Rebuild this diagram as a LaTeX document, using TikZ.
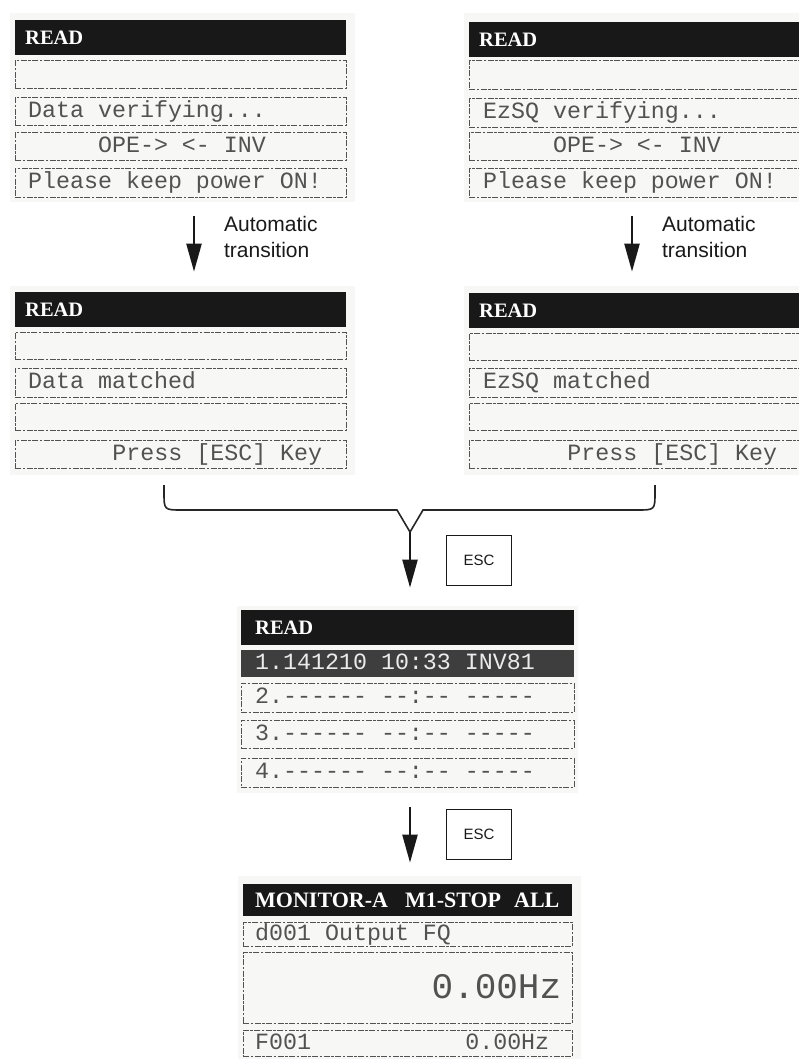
\documentclass[tikz,border=0pt]{standalone}
\usepackage{fontspec}
\usepackage{xcolor}
\usepackage{tikz}
\usetikzlibrary{arrows.meta,positioning}
\newfontfamily\lcdfont{Liberation Mono}[Ligatures=TeXOff]
\newfontfamily\lcdhead{Liberation Serif}
\newfontfamily\notefont{Liberation Sans}
% one character cell of blank on the LCD
\newcommand{\lsp}{\hspace*{0.6em}}
\definecolor{LcdInk}{RGB}{82,82,82}
\definecolor{LcdPaper}{RGB}{247,247,245}
\definecolor{LcdBar}{RGB}{24,24,24}
\definecolor{LcdSel}{RGB}{62,62,62}
\tikzset{
    lcdframe/.style={draw=black!75, double=LcdPaper, double distance=1.4pt, line width=0.7pt, fill=LcdPaper, inner sep=0pt},
    headbar/.style={fill=LcdBar, anchor=north west, minimum height=35pt, inner sep=0pt},
    headtext/.style={font=\lcdhead\bfseries\fontsize{20.5}{22}\selectfont, text=white, inner sep=0pt},
    lcdrow/.style={draw=LcdInk, line width=0.9pt, dash pattern=on 6pt off 1.5pt on 2.5pt off 1.5pt, anchor=north west, inner sep=0pt},
    selrow/.style={fill=LcdSel, anchor=north west, inner sep=0pt},
    lcdtext/.style={font=\lcdfont\fontsize{23.3}{26}\selectfont, text=LcdInk, inner sep=0pt, text width=294pt, text height=17pt, text depth=5pt, align=left},
    seltext/.style={lcdtext, text=black!8},
    lcdbig/.style={lcdtext, font=\lcdfont\fontsize{36}{40}\selectfont, text width=306pt, text height=26pt, text depth=5pt, align=right},
    flowarr/.style={-{Triangle[length=28pt,width=15pt]}, line width=2.3pt, black!90},
    bracket/.style={line width=1.6pt, black!85},
    autolabel/.style={font=\notefont\fontsize{21}{26}\selectfont, align=left, inner sep=0pt},
    keybox/.style={draw, line width=1.3pt, minimum width=65pt, minimum height=50pt, inner sep=0pt, font=\notefont\fontsize{15}{15}\selectfont},
}
\begin{document}
\begin{tikzpicture}[x=1pt, y=-1pt]
\useasboundingbox (0,0) rectangle (798,1059);

% top left: data verifying
\node[lcdframe, minimum width=343pt, minimum height=187pt] (s1) at (182.5,107.5) {};
\node[headbar, minimum width=331pt] (s1h) at (15,20) {};
\node[headtext, right=10pt of s1h.west] {READ};
\node[lcdrow, minimum width=331pt, minimum height=28pt] (s1r1) at (15,60) {};
\node[lcdrow, minimum width=331pt, minimum height=28pt] (s1r2) at (15,97) {};
\node[lcdrow, minimum width=331pt, minimum height=28pt] (s1r3) at (15,132) {};
\node[lcdrow, minimum width=331pt, minimum height=29pt] (s1r4) at (15,168) {};
\node[lcdtext, right=13pt of s1r2.west] {Data\lsp verifying...};
\node[lcdtext, right=13pt of s1r3.west] {\hphantom{00000}OPE->\lsp<-\lsp INV};
\node[lcdtext, right=13pt of s1r4.west] {Please\lsp keep\lsp power\lsp ON!};

% top right: EzSQ verifying
\node[lcdframe, minimum width=365pt, minimum height=187pt] (s2) at (647.5,107.5) {};
\node[headbar, minimum width=360pt] (s2h) at (469,22) {};
\node[headtext, right=10pt of s2h.west] {READ};
\node[lcdrow, minimum width=360pt, minimum height=29pt] (s2r1) at (469,60) {};
\node[lcdrow, minimum width=360pt, minimum height=29pt] (s2r2) at (469,98) {};
\node[lcdrow, minimum width=360pt, minimum height=28pt] (s2r3) at (469,132) {};
\node[lcdrow, minimum width=360pt, minimum height=29pt] (s2r4) at (469,168) {};
\node[lcdtext, right=14pt of s2r2.west] {EzSQ\lsp verifying...};
\node[lcdtext, right=14pt of s2r3.west] {\hphantom{00000}OPE->\lsp<-\lsp INV};
\node[lcdtext, right=14pt of s2r4.west] {Please\lsp keep\lsp power\lsp ON!};

% middle left: data matched
\node[lcdframe, minimum width=343pt, minimum height=187pt] (s3) at (182.5,380.5) {};
\node[headbar, minimum width=331pt] (s3h) at (15,292) {};
\node[headtext, right=10pt of s3h.west] {READ};
\node[lcdrow, minimum width=331pt, minimum height=27pt] (s3r1) at (15,332) {};
\node[lcdrow, minimum width=331pt, minimum height=29pt] (s3r2) at (15,368) {};
\node[lcdrow, minimum width=331pt, minimum height=27pt] (s3r3) at (15,403) {};
\node[lcdrow, minimum width=331pt, minimum height=28pt] (s3r4) at (15,440) {};
\node[lcdtext, right=13pt of s3r2.west] {Data\lsp matched};
\node[lcdtext, align=right, right=13pt of s3r4.west] {Press\lsp[ESC]\lsp Key};

% middle right: EzSQ matched
\node[lcdframe, minimum width=365pt, minimum height=187pt] (s4) at (647.5,380.5) {};
\node[headbar, minimum width=360pt] (s4h) at (469,293) {};
\node[headtext, right=10pt of s4h.west] {READ};
\node[lcdrow, minimum width=360pt, minimum height=27pt] (s4r1) at (469,333) {};
\node[lcdrow, minimum width=360pt, minimum height=29pt] (s4r2) at (469,368) {};
\node[lcdrow, minimum width=360pt, minimum height=27pt] (s4r3) at (469,403) {};
\node[lcdrow, minimum width=360pt, minimum height=28pt] (s4r4) at (469,440) {};
\node[lcdtext, right=14pt of s4r2.west] {EzSQ\lsp matched};
\node[lcdtext, align=right, right=14pt of s4r4.west] {Press\lsp[ESC]\lsp Key};

% read history
\node[lcdframe, minimum width=339pt, minimum height=185pt] (s5) at (407.5,699.5) {};
\node[headbar, minimum width=333pt] (s5h) at (241,610) {};
\node[headtext, right=14pt of s5h.west] {READ};
\node[selrow, minimum width=333pt, minimum height=27pt] (s5r1) at (241,650) {};
\node[lcdrow, minimum width=333pt, minimum height=29pt] (s5r2) at (241,683) {};
\node[lcdrow, minimum width=333pt, minimum height=28pt] (s5r3) at (241,720) {};
\node[lcdrow, minimum width=333pt, minimum height=29pt] (s5r4) at (241,758) {};
\node[seltext, right=14pt of s5r1.west] {1.141210\lsp 10:33\lsp INV81};
\node[lcdtext, right=14pt of s5r2.west] {2.------\lsp --:--\lsp -----};
\node[lcdtext, right=14pt of s5r3.west] {3.------\lsp --:--\lsp -----};
\node[lcdtext, right=14pt of s5r4.west] {4.------\lsp --:--\lsp -----};

% monitor
\node[lcdframe, minimum width=341pt, minimum height=193pt] (s6) at (409.5,973.5) {};
\node[headbar, minimum width=329pt, minimum height=32pt] (s6h) at (243,884) {};
\node[headtext, font=\lcdhead\bfseries\fontsize{22}{24}\selectfont, right=12pt of s6h.west] {MONITOR-A\hspace{17pt}M1-STOP\hspace{13pt}ALL};
\node[lcdrow, minimum width=329pt, minimum height=24pt] (s6r1) at (243,922) {};
\node[lcdrow, minimum width=329pt, minimum height=71pt] (s6r2) at (243,952) {};
\node[lcdrow, minimum width=329pt, minimum height=26pt] (s6r3) at (243,1030) {};
\node[lcdtext, right=12pt of s6r1.west] {d001\lsp Output\lsp FQ};
\node[lcdbig, right=12pt of s6r2.west] {0.00Hz};
\node[lcdtext, right=12pt of s6r3.west] {F001\hfill 0.00Hz};

% transitions
\draw[flowarr, shorten <=15pt, shorten >=15pt] ([xshift=11.5pt]s1.south) -- ([xshift=11.5pt]s3.north)
    node[autolabel, midway, right=29pt, yshift=7.5pt] {Automatic\\transition};
\draw[flowarr, shorten <=15pt, shorten >=15pt] ([xshift=-15.5pt]s2.south) -- ([xshift=-15.5pt]s4.north)
    node[autolabel, midway, right=29pt, yshift=7.5pt] {Automatic\\transition};

\coordinate (jn) at (410,532);
\draw[bracket] (164,485) -- (164,492) .. controls (164,510) .. (182,510) -- (397,510) -- (jn)
    -- (423,510) -- (637,510) .. controls (655,510) .. (655,492) -- (655,485);
\draw[flowarr, shorten >=19pt] (jn) -- (jn |- s5.north)
    node[keybox, midway, right=36pt, yshift=8.5pt] {ESC};
\draw[flowarr, shorten <=15pt, shorten >=14pt] ([xshift=2.5pt]s5.south) -- ([xshift=0.5pt]s6.north)
    node[keybox, midway, right=36pt] {ESC};
\end{tikzpicture}
\end{document}
